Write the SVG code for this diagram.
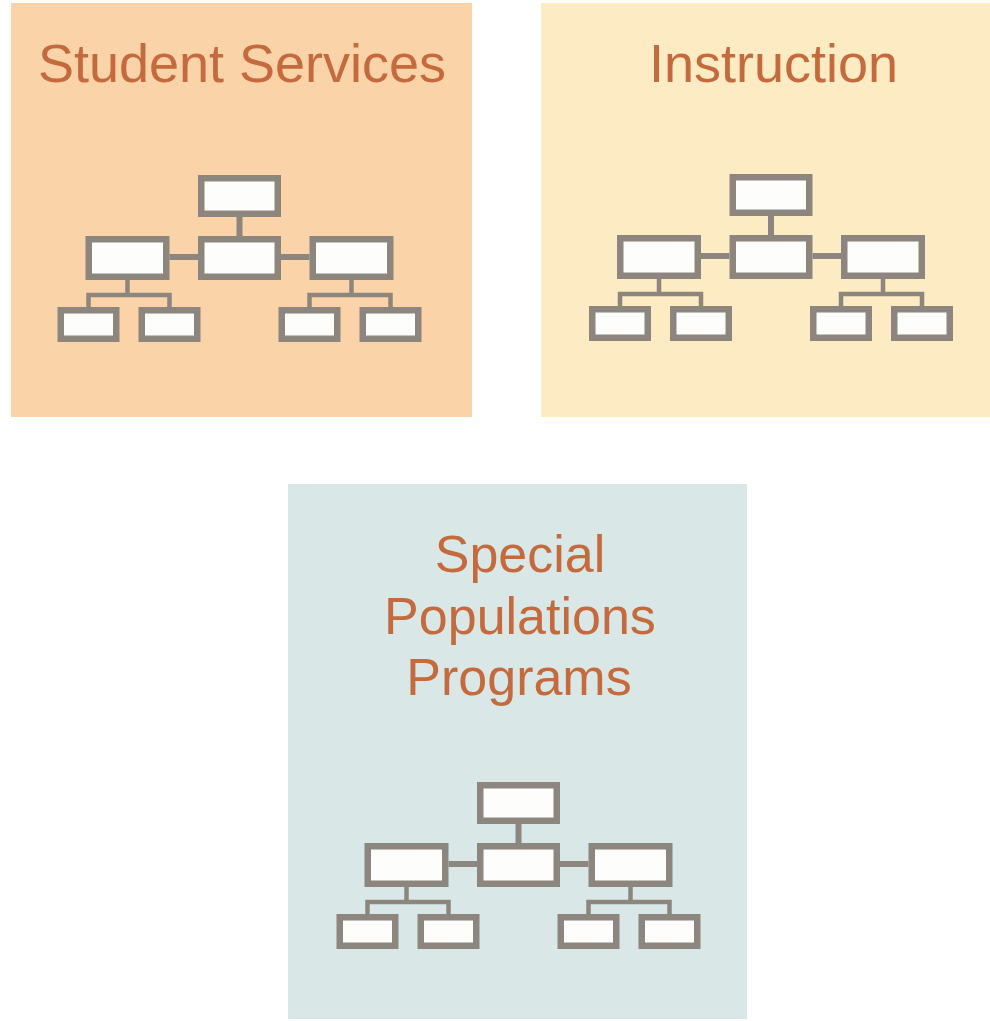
<svg xmlns="http://www.w3.org/2000/svg" width="990" height="1021" viewBox="0 0 990 1021">
  <style>
    .title { font-family: "Liberation Sans", Arial, sans-serif; fill: #c46a3c; text-anchor: middle; }
    .box { fill: #fdfdfb; stroke: #8c867e; stroke-width: 6.5; }
    .link { fill: none; stroke: #8c867e; stroke-width: 6; }
    .sub { fill: none; stroke: #8c867e; stroke-width: 4.5; stroke-linejoin: miter; }
  </style>
  <rect width="990" height="1021" fill="#ffffff"/>

  <!-- Panel 1: Student Services -->
  <g id="panel-student-services">
    <rect x="11" y="3" width="461" height="414" fill="#fad3a9"/>
    <text class="title" x="242" y="82" font-size="54">Student Services</text>
    <g transform="translate(239.5,175)">
      <g id="ss-connectors">
        <line class="link" x1="0" y1="42" x2="0" y2="61"/>
        <line class="link" x1="-70" y1="82" x2="-41.5" y2="82"/>
        <line class="link" x1="41.5" y1="82" x2="70" y2="82"/>
        <line class="sub" x1="-112" y1="105" x2="-112" y2="120"/>
        <polyline class="sub" points="-151,132 -151,120 -70,120 -70,132"/>
        <line class="sub" x1="112" y1="105" x2="112" y2="120"/>
        <polyline class="sub" points="70,132 70,120 151,120 151,132"/>
      </g>
      <g id="ss-top"><rect class="box" x="-38.25" y="3.25" width="76.5" height="35.5"/></g>
      <g id="ss-mid-left"><rect class="box" x="-150.75" y="64.25" width="77.5" height="37.5"/></g>
      <g id="ss-mid-center"><rect class="box" x="-38.25" y="64.25" width="76.5" height="37.5"/></g>
      <g id="ss-mid-right"><rect class="box" x="73.25" y="64.25" width="77.5" height="37.5"/></g>
      <g id="ss-child-1"><rect class="box" x="-178.75" y="135.25" width="55.5" height="28.5"/></g>
      <g id="ss-child-2"><rect class="box" x="-97.75" y="135.25" width="55.5" height="28.5"/></g>
      <g id="ss-child-3"><rect class="box" x="42.25" y="135.25" width="55.5" height="28.5"/></g>
      <g id="ss-child-4"><rect class="box" x="123.25" y="135.25" width="55.5" height="28.5"/></g>
    </g>
  </g>

  <!-- Panel 2: Instruction -->
  <g id="panel-instruction">
    <rect x="541" y="3" width="449" height="414" fill="#fcebc3"/>
    <text class="title" x="773.5" y="82" font-size="54">Instruction</text>
    <g transform="translate(771,174)">
      <g id="in-connectors">
        <line class="link" x1="0" y1="42" x2="0" y2="61"/>
        <line class="link" x1="-70" y1="82" x2="-41.5" y2="82"/>
        <line class="link" x1="41.5" y1="82" x2="70" y2="82"/>
        <line class="sub" x1="-112" y1="105" x2="-112" y2="120"/>
        <polyline class="sub" points="-151,132 -151,120 -70,120 -70,132"/>
        <line class="sub" x1="112" y1="105" x2="112" y2="120"/>
        <polyline class="sub" points="70,132 70,120 151,120 151,132"/>
      </g>
      <g id="in-top"><rect class="box" x="-38.25" y="3.25" width="76.5" height="35.5"/></g>
      <g id="in-mid-left"><rect class="box" x="-150.75" y="64.25" width="77.5" height="37.5"/></g>
      <g id="in-mid-center"><rect class="box" x="-38.25" y="64.25" width="76.5" height="37.5"/></g>
      <g id="in-mid-right"><rect class="box" x="73.25" y="64.25" width="77.5" height="37.5"/></g>
      <g id="in-child-1"><rect class="box" x="-178.75" y="135.25" width="55.5" height="28.5"/></g>
      <g id="in-child-2"><rect class="box" x="-97.75" y="135.25" width="55.5" height="28.5"/></g>
      <g id="in-child-3"><rect class="box" x="42.25" y="135.25" width="55.5" height="28.5"/></g>
      <g id="in-child-4"><rect class="box" x="123.25" y="135.25" width="55.5" height="28.5"/></g>
    </g>
  </g>

  <!-- Panel 3: Special Populations Programs -->
  <g id="panel-special-populations">
    <rect x="288" y="484" width="459" height="535" fill="#d9e7e7"/>
    <text class="title" x="520" y="572" font-size="52">Special</text>
    <text class="title" x="520" y="634" font-size="52">Populations</text>
    <text class="title" x="519" y="695" font-size="52">Programs</text>
    <g transform="translate(518.5,782)">
      <g id="sp-connectors">
        <line class="link" x1="0" y1="42" x2="0" y2="61"/>
        <line class="link" x1="-70" y1="82" x2="-41.5" y2="82"/>
        <line class="link" x1="41.5" y1="82" x2="70" y2="82"/>
        <line class="sub" x1="-112" y1="105" x2="-112" y2="120"/>
        <polyline class="sub" points="-151,132 -151,120 -70,120 -70,132"/>
        <line class="sub" x1="112" y1="105" x2="112" y2="120"/>
        <polyline class="sub" points="70,132 70,120 151,120 151,132"/>
      </g>
      <g id="sp-top"><rect class="box" x="-38.25" y="3.25" width="76.5" height="35.5"/></g>
      <g id="sp-mid-left"><rect class="box" x="-150.75" y="64.25" width="77.5" height="37.5"/></g>
      <g id="sp-mid-center"><rect class="box" x="-38.25" y="64.25" width="76.5" height="37.5"/></g>
      <g id="sp-mid-right"><rect class="box" x="73.25" y="64.25" width="77.5" height="37.5"/></g>
      <g id="sp-child-1"><rect class="box" x="-178.75" y="135.25" width="55.5" height="28.5"/></g>
      <g id="sp-child-2"><rect class="box" x="-97.75" y="135.25" width="55.5" height="28.5"/></g>
      <g id="sp-child-3"><rect class="box" x="42.25" y="135.25" width="55.5" height="28.5"/></g>
      <g id="sp-child-4"><rect class="box" x="123.25" y="135.25" width="55.5" height="28.5"/></g>
    </g>
  </g>
</svg>
